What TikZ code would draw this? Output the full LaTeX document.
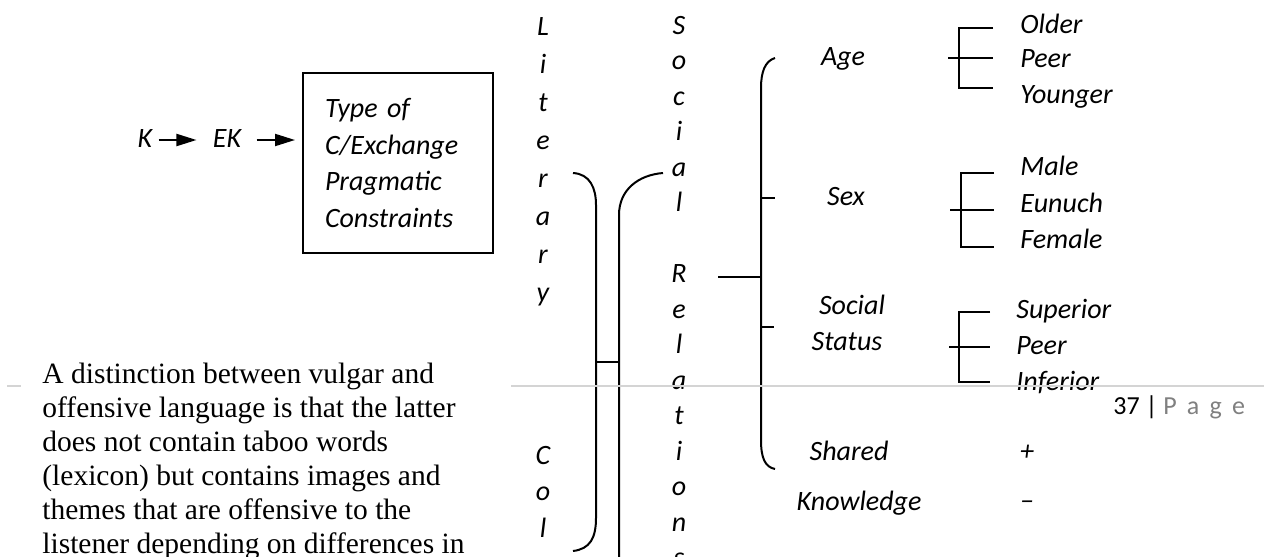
\documentclass[tikz,border=0pt]{standalone}
\usepackage{fontspec}
\setmainfont{Liberation Serif}
\newfontfamily\calfont{Carlito}
\usetikzlibrary{arrows.meta}

\begin{document}
\begin{tikzpicture}[x=0.5pt,y=-0.5pt,
  lbl/.style={font=\calfont\itshape\fontsize{14}{17}\selectfont, inner sep=0pt,
              text height=9.8pt, text depth=2.8pt},
  ln/.style={line width=1pt},
  greyline/.style={draw=black!17, line width=0.8pt},
  arr/.style={line width=1pt, -{Triangle[length=10pt,width=6pt]}}]

\useasboundingbox (0,0) rectangle (1264,557);

% ---- left chain: K -> EK -> box
\node[lbl] (K) at (145,140) {K};
\node[lbl] (EK) at (227,140) {EK};
\node[draw, ln, minimum width=95pt, minimum height=90pt, text width=73pt,
      inner xsep=11pt, align=left,
      font=\calfont\itshape\fontsize{14}{18.35}\selectfont] (box) at (398,163)
      {Type of\\C/Exchange\\Pragmatic\\Constraints};
\draw[arr, shorten <=3pt, shorten >=8pt] (K) -- (EK);
\draw[arr, shorten <=7.5pt, shorten >=3.5pt] (EK.east) -- (EK.east -| box.west);

% ---- vertical words
\foreach \c [count=\i from 0] in {L,i,t,e,r,a,r,y}
  \node[lbl] (lit\i) at (543,{28+38*\i}) {\c};
\node[lbl] (colC) at (543,457) {C};
\node[lbl] (colO) at (543,493) {o};
\node[lbl] (colL) at (543,530) {l};
\foreach \c [count=\i from 0] in {S,o,c,i,a,l}
  \node[lbl] (soc\i) at (679,{27+35.5*\i}) {\c};
\foreach \c [count=\i from 7] in {R,e,l,a,t,i,o,n,s}
  \node[lbl] (rel\i) at (679,{27+35.5*\i}) {\c};

% ---- brackets joining the two columns
\draw[ln] (573,173) .. controls (590,174) and (596,188) .. (596,205)
  -- (596,518) .. controls (596,538) and (590,549) .. (573,551);
\draw[ln] (663,173) .. controls (638,175) and (619,190) .. (619,215) -- (619,560);
\draw[ln] (596,362) -- (619,362);

% ---- main brace of the factors
\draw[ln] (775,58) .. controls (765,61) and (761,72) .. (761,88)
  -- (761,440) .. controls (761,458) and (765,467) .. (775,469);
\draw[ln] (718,277) -- (761,277);
\draw[ln] (761,198) -- (775,198);
\draw[ln] (761,327) -- (774,327);

% ---- factor labels
\node[lbl] (age) at (843,58) {Age};
\node[lbl] (sex) at (846,198) {Sex};
\node[lbl] (soc) at (852,307) {Social};
\node[lbl] (stat) at (847,343) {Status};
\node[lbl] (shared) at (849,453) {Shared};
\node[lbl] (know) at (859,503) {Knowledge};
\node[lbl] (plus) at (1027,453) {+};
\node[lbl] (minus) at (1027,502) {–};

% ---- sub-brackets with their values
\draw[ln] (993,28) -- (959,28) -- (959,88) -- (993,88);
\draw[ln] (948,58) -- (993,58);
\node[lbl, anchor=west] (older) at (1020,26) {Older};
\node[lbl, anchor=west] (peerA) at (1020,61) {Peer};
\node[lbl, anchor=west] (younger) at (1020,96) {Younger};

\draw[ln] (994,173) -- (961,173) -- (961,247) -- (994,247);
\draw[ln] (950,210) -- (994,210);
\node[lbl, anchor=west] (male) at (1020,168) {Male};
\node[lbl, anchor=west] (eunuch) at (1020,205) {Eunuch};
\node[lbl, anchor=west] (female) at (1020,241) {Female};

\draw[ln] (990,312) -- (959,312) -- (959,382) -- (990,382);
\draw[ln] (949,347) -- (990,347);
\node[lbl, anchor=west] (superior) at (1016,311) {Superior};
\node[lbl, anchor=west] (peerS) at (1016,347) {Peer};
\node[lbl, anchor=west] (inferior) at (1016,383) {Inferior};

% ---- page furniture
\draw[greyline] (7,386) -- (21,386);
\draw[greyline] (511,386) -- (1264,386);
\node[font=\calfont\fontsize{13}{15}\selectfont, anchor=west, inner sep=0pt,
      text height=9pt, text depth=2.6pt] (pg) at (1113,408)
      {37 | \textcolor{black!50}{\addfontfeature{LetterSpace=40}Page}};

% ---- running text
\node[font=\fontsize{14.75}{17}\selectfont, align=left, anchor=north west,
      inner sep=0pt] (para) at (42,363)
  {A distinction between vulgar and\\
   offensive language is that the latter\\
   does not contain taboo words\\
   (lexicon) but contains images and\\
   themes that are offensive to the\\
   listener depending on differences in};
\end{tikzpicture}
\end{document}
